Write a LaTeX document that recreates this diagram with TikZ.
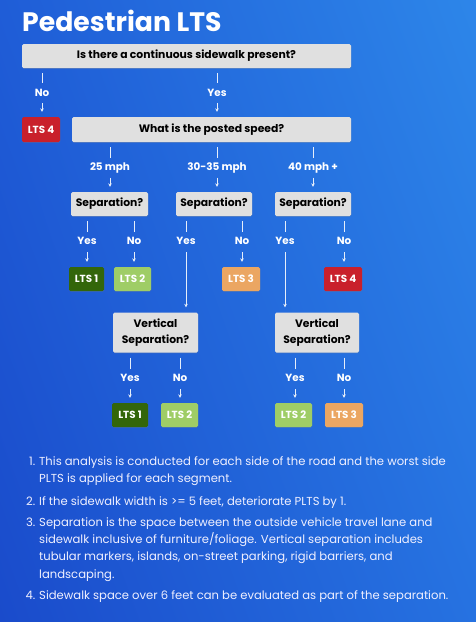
\documentclass[tikz,border=0pt]{standalone}
\usepackage{fontspec}
\setmainfont{Poppins}
\usetikzlibrary{arrows.meta,shadows,calc,shadings}
\definecolor{bgTL}{HTML}{1F5DD7}
\definecolor{bgTR}{HTML}{2D86E9}
\definecolor{bgBL}{HTML}{1A4BCB}
\definecolor{bgBR}{HTML}{2672E1}
\definecolor{boxgray}{HTML}{E0E0E0}
\definecolor{ltsred}{HTML}{C9202B}
\definecolor{ltsdkgreen}{HTML}{33660A}
\definecolor{ltsltgreen}{HTML}{9FCD66}
\definecolor{ltsorange}{HTML}{EBA662}
\definecolor{stemcol}{HTML}{E6EEFA}
\newcommand\branch[3]{%
  \draw[stem] ($(#1.south -| #2)+(0,5)$) -- ($(#2.center)+(0,-9)$);
  \draw[arr] ($(#2.center)+(0,11)$) -- (#3.north -| #2);}
\begin{document}
\begin{tikzpicture}[x=1pt,y=-1pt,
  qbox/.style={fill=boxgray, rounded corners=1.5pt, inner sep=0pt, text=black,
    align=center, font=\bfseries\fontsize{10.8}{16}\selectfont,
    drop shadow={shadow xshift=0.4pt, shadow yshift=-0.8pt, opacity=0.25}},
  ltsbox/.style={rounded corners=1.5pt, inner sep=0pt, text=white,
    minimum height=24pt, font=\bfseries\fontsize{10.3}{12}\selectfont,
    drop shadow={shadow xshift=0.4pt, shadow yshift=-0.8pt, opacity=0.25}},
  lbl/.style={text=white, inner sep=0pt, text height=7.4pt, text depth=0pt,
    font=\bfseries\fontsize{10.4}{12}\selectfont},
  stem/.style={draw=stemcol, line width=0.8pt},
  arr/.style={stem, -{Stealth[length=3.5pt,width=3.6pt]}, shorten >=5pt},
  note/.style={text=white!94!blue, inner sep=0pt,
    font=\fontsize{11.6}{17.3}\selectfont}]
\useasboundingbox (0,0) rectangle (476,622);
\shade[upper left=bgTL, upper right=bgTR, lower left=bgBL, lower right=bgBR]
  (0,0) rectangle (476,622);
% title
\node[anchor=base west, text=white, inner sep=0pt,
  font=\bfseries\fontsize{26.7}{30}\selectfont] (title) at (22,31) {Pedestrian LTS};
% question boxes
\node[qbox, minimum width=329pt, minimum height=24pt] (q1) at (186.5,56)
  {Is there a continuous sidewalk present?};
\node[ltsbox, fill=ltsred, minimum width=38pt, minimum height=25pt] (lts4a) at (41,129.5) {LTS 4};
\node[qbox, minimum width=279pt, minimum height=25pt] (q2) at (211.5,129.5)
  {What is the posted speed?};
\node[qbox, minimum width=77pt, minimum height=24pt] (s1) at (109.5,204) {Separation?};
\node[qbox, minimum width=76pt, minimum height=24pt] (s2) at (214,204) {Separation?};
\node[qbox, minimum width=76pt, minimum height=24pt] (s3) at (313,204) {Separation?};
\node[ltsbox, fill=ltsdkgreen, minimum width=35pt] (l1a) at (86.5,279) {LTS 1};
\node[ltsbox, fill=ltsltgreen, minimum width=37pt] (l2a) at (132.5,279) {LTS 2};
\node[ltsbox, fill=ltsorange, minimum width=38pt] (l3a) at (241,279) {LTS 3};
\node[ltsbox, fill=ltsred, minimum width=38pt] (l4b) at (343,279) {LTS 4};
\node[qbox, minimum width=85pt, minimum height=40pt] (v1) at (155.5,332.5) {Vertical\\Separation?};
\node[qbox, minimum width=84pt, minimum height=40pt] (v2) at (317,332.5) {Vertical\\Separation?};
\node[ltsbox, fill=ltsdkgreen, minimum width=36pt] (l1b) at (130,415) {LTS 1};
\node[ltsbox, fill=ltsltgreen, minimum width=37pt] (l2b) at (179.5,415) {LTS 2};
\node[ltsbox, fill=ltsltgreen, minimum width=37pt] (l2c) at (293.5,415) {LTS 2};
\node[ltsbox, fill=ltsorange, minimum width=38pt] (l3c) at (344,415) {LTS 3};
% branch labels
\node[lbl] (no1) at (42,92.3) {No};
\node[lbl] (yes1) at (217,92.3) {Yes};
\node[lbl] (sp25) at (110,166.7) {25 mph};
\node[lbl] (sp30) at (217,166.7) {30-35 mph};
\node[lbl] (sp40) at (313,166.7) {40 mph +};
\node[lbl] (y1) at (87,241) {Yes};
\node[lbl] (n1) at (134,241) {No};
\node[lbl] (y2) at (186,241) {Yes};
\node[lbl] (n2) at (242,241) {No};
\node[lbl] (y3) at (285,241) {Yes};
\node[lbl] (n3) at (344,241) {No};
\node[lbl] (y4) at (130,378) {Yes};
\node[lbl] (n4) at (180,378) {No};
\node[lbl] (y5) at (295,378) {Yes};
\node[lbl] (n5) at (344,378) {No};
% connectors
\branch{q1}{no1}{lts4a}
\branch{q1}{yes1}{q2}
\branch{q2}{sp25}{s1}
\branch{q2}{sp30}{s2}
\branch{q2}{sp40}{s3}
\branch{s1}{y1}{l1a}
\branch{s1}{n1}{l2a}
\branch{s2}{y2}{v1}
\branch{s2}{n2}{l3a}
\branch{s3}{y3}{v2}
\branch{s3}{n3}{l4b}
\branch{v1}{y4}{l1b}
\branch{v1}{n4}{l2b}
\branch{v2}{y5}{l2c}
\branch{v2}{n5}{l3c}
% notes
\node[note, anchor=base east] (m1) at (35.5,465.5) {1.};
\node[note, anchor=base west] (t1a) at (39,465.5)
  {This analysis is conducted for each side of the road and the worst side};
\node[note, anchor=base west] (t1b) at (39,482.5) {PLTS is applied for each segment.};
\node[note, anchor=base east] (m2) at (35.5,505) {2.};
\node[note, anchor=base west] (t2a) at (39,505)
  {If the sidewalk width is >= 5 feet, deteriorate PLTS by 1.};
\node[note, anchor=base east] (m3) at (35.5,526) {3.};
\node[note, anchor=base west] (t3a) at (39,526)
  {Separation is the space between the outside vehicle travel lane and};
\node[note, anchor=base west] (t3b) at (39,543.4)
  {sidewalk inclusive of furniture/foliage. Vertical separation includes};
\node[note, anchor=base west] (t3c) at (39,560.8)
  {tubular markers, islands, on-street parking, rigid barriers, and};
\node[note, anchor=base west] (t3d) at (39,578.2) {landscaping.};
\node[note, anchor=base east] (m4) at (35.5,599.5) {4.};
\node[note, anchor=base west] (t4a) at (39,599.5)
  {Sidewalk space over 6 feet can be evaluated as part of the separation.};
\end{tikzpicture}
\end{document}
